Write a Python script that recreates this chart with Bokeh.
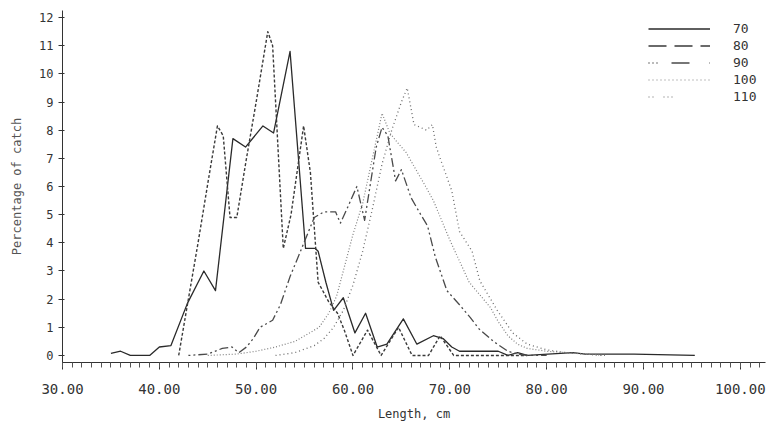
from bokeh.plotting import figure
from bokeh.models import Range1d, SingleIntervalTicker, PrintfTickFormatter, Legend, LegendItem
from bokeh.embed import file_html
from bokeh.resources import INLINE

# ---- data (length in cm, percentage of catch) ----
mesh_labels = ["70", "80", "90", "100", "110"]

len_70 = [35, 36, 37, 39, 40, 41.2, 42.9, 44.6, 45.8, 47.6, 48.9, 50.7, 51.8, 53.5, 55.1, 56.1, 56.4,
          57.2, 58, 59, 60.2, 61.3, 62.5, 63.5, 65.2, 66.6, 68.3, 69.3, 70.2, 71, 75, 76, 77, 78,
          82.7, 84, 88, 89, 95.3]
pct_70 = [0.07, 0.15, 0, 0, 0.3, 0.35, 1.85, 3.0, 2.3, 7.7, 7.4, 8.15, 7.9, 10.8, 3.8, 3.8, 3.7,
          2.6, 1.6, 2.05, 0.8, 1.5, 0.3, 0.4, 1.3, 0.4, 0.7, 0.6, 0.3, 0.15, 0.15, 0.0, 0.1, 0.0,
          0.1, 0.05, 0.05, 0.05, 0.0]

len_80 = [42, 43, 44, 45, 46, 46.6, 47.3, 48.0, 49.0, 50.0, 51.2, 51.7, 52.8, 53.6, 54.9, 55.6,
          56.4, 57.5, 58.4, 59.1, 60.0, 61.5, 62.9, 64.7, 66.1, 67.8, 69.0, 70.4, 74, 78]
pct_80 = [0, 2.0, 4.0, 6.1, 8.15, 7.8, 4.9, 4.9, 7.0, 9.0, 11.5, 11.0, 3.8, 5.0, 8.15, 6.5,
          2.6, 1.9, 1.5, 0.9, 0.0, 0.9, 0.0, 1.0, 0.0, 0.0, 0.7, 0.0, 0.0, 0.0]

len_90 = [43, 45, 46.5, 47.5, 48.2, 49.0, 49.7, 50.4, 51.7, 52.5, 53.5, 54.7, 56.0, 57.0, 58.2,
          58.7, 59.5, 60.4, 61.2, 62.4, 63.0, 63.6, 64.4, 65.0, 66.0, 67.0, 67.7, 68.5, 69.7, 71.0,
          72.1, 73.0, 74.5, 76.0, 77.0, 78.0, 80.0]
pct_90 = [0, 0.05, 0.25, 0.3, 0.1, 0.3, 0.6, 1.0, 1.25, 1.8, 2.8, 3.8, 4.9, 5.1, 5.1,
          4.7, 5.3, 6.0, 4.8, 7.4, 8.1, 7.8, 6.2, 6.6, 5.6, 5.0, 4.6, 3.5, 2.3, 1.8,
          1.35, 0.95, 0.5, 0.15, 0.05, 0.0, 0.0]

len_100 = [45, 48, 50, 52, 54, 55, 56.5, 57.5, 58.3, 59, 60, 61, 62, 63, 63.8, 64.5, 65.5, 66.5,
           67.5, 68.3, 70, 72, 74.2, 75, 76, 77, 78, 80, 82, 84, 86]
pct_100 = [0, 0.05, 0.15, 0.3, 0.5, 0.7, 1.0, 1.5, 2.1, 3.0, 4.3, 5.4, 7.0, 8.6, 7.9, 7.6, 7.2, 6.6,
           6.0, 5.5, 4.1, 2.6, 1.7, 1.2, 0.7, 0.4, 0.25, 0.15, 0.1, 0.05, 0]

len_110 = [52, 54, 56, 57, 58, 59, 60, 61, 62, 63, 64, 65, 65.6, 66.3, 67.6, 68.2, 68.6, 69, 70.2,
           71, 72.3, 73.1, 74.9, 76.5, 78, 80, 82, 84, 86]
pct_110 = [0, 0.1, 0.35, 0.6, 1.0, 1.6, 2.5, 3.7, 5.2, 6.8, 8.0, 9.0, 9.5, 8.2, 8.0, 8.2, 7.4, 7.0,
           5.85, 4.4, 3.7, 2.65, 1.6, 0.8, 0.4, 0.2, 0.1, 0.05, 0]

x_ticks_interval = 10
y_ticks_interval = 1

series = [(len_70, pct_70), (len_80, pct_80), (len_90, pct_90), (len_100, pct_100), (len_110, pct_110)]

# ---- styles ----
curve_styles = [
    dict(line_color="#2a2a2a", line_width=1.3, line_dash="solid"),
    dict(line_color="#3a3a3a", line_width=1.4, line_dash="3 2"),
    dict(line_color="#4a4a4a", line_width=1.3, line_dash="2 3 2 3 9 3"),
    dict(line_color="#808080", line_width=1.2, line_dash="1 2"),
    dict(line_color="#6a6a6a", line_width=1.3, line_dash="1 3"),
]
legend_styles = [
    dict(line_color="#2a2a2a", line_width=1.3, line_dash="solid"),
    dict(line_color="#3a3a3a", line_width=1.3, line_dash="18 8"),
    dict(line_color="#4a4a4a", line_width=1.3, line_dash="1 3 1 3 1 14 18 20"),
    dict(line_color="#808080", line_width=1.2, line_dash="1 3"),
    dict(line_color="#6a6a6a", line_width=1.2, line_dash="1 3 1 10 1 3 1 3 1 40"),
]

FONT = "DejaVu Sans Mono"
TXT = "#333333"

p = figure(width=771, height=428, output_backend="svg", toolbar_location=None,
           x_range=Range1d(30, 102.6), y_range=Range1d(-0.25, 12.25),
           min_border_left=62, min_border_right=6, min_border_top=10, min_border_bottom=66)
p.outline_line_color = None
p.xgrid.visible = False
p.ygrid.visible = False
p.background_fill_color = "white"
p.border_fill_color = "white"

for (xs, ys), st in zip(series, curve_styles):
    p.line(xs, ys, line_join="round", **st)

# legend proxies (same labels, legend line styles); NaN data so nothing is drawn in the plot area
items = []
for lab, st in zip(mesh_labels, legend_styles):
    r = p.line([float("nan")], [float("nan")], **st)
    items.append(LegendItem(label=lab, renderers=[r], index=0))
legend = Legend(items=items, location=(586, 257))
legend.border_line_color = None
legend.background_fill_alpha = 0
legend.padding = 0
legend.margin = 0
legend.spacing = 0
legend.glyph_width = 62
legend.glyph_height = 17
legend.label_height = 17
legend.label_standoff = 23
legend.label_text_font = FONT
legend.label_text_font_size = "13px"
legend.label_text_color = TXT
p.add_layout(legend)

# x axis
xa = p.xaxis[0]
xa.ticker = SingleIntervalTicker(interval=x_ticks_interval, num_minor_ticks=10)
xa.formatter = PrintfTickFormatter(format="%.2f")
xa.axis_label = "Length, cm"
xa.axis_label_text_font = FONT
xa.axis_label_text_font_size = "12px"
xa.axis_label_text_font_style = "normal"
xa.axis_label_text_color = TXT
xa.axis_label_standoff = 10
xa.major_label_text_font = FONT
xa.major_label_text_font_size = "14px"
xa.major_label_text_color = TXT
xa.major_label_standoff = 14
xa.axis_line_color = "#333333"
xa.major_tick_line_color = "#333333"
xa.minor_tick_line_color = "#555555"
xa.major_tick_in = 0
xa.major_tick_out = 7
xa.minor_tick_in = 0
xa.minor_tick_out = 5

# y axis
ya = p.yaxis[0]
ya.ticker = SingleIntervalTicker(interval=y_ticks_interval, num_minor_ticks=0)
ya.axis_label = "Percentage of catch"
ya.axis_label_text_font = FONT
ya.axis_label_text_font_size = "12px"
ya.axis_label_text_font_style = "normal"
ya.axis_label_text_color = "#555555"
ya.axis_label_standoff = 12
ya.major_label_text_font = FONT
ya.major_label_text_font_size = "12px"
ya.major_label_text_color = TXT
ya.major_label_standoff = 5
ya.axis_line_color = "#333333"
ya.major_tick_line_color = "#333333"
ya.major_tick_in = 2
ya.major_tick_out = 4

open("out.html", "w").write(file_html(p, INLINE))
